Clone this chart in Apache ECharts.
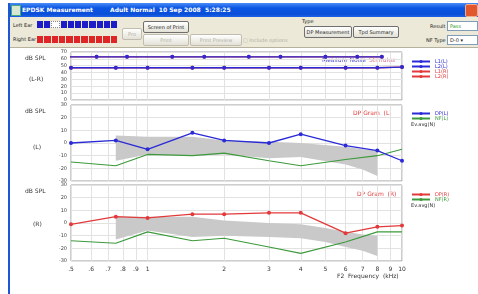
<!DOCTYPE html>
<html>
<head>
<meta charset="utf-8">
<script src="https://cdn.jsdelivr.net/npm/echarts@6/dist/echarts.min.js"></script>
<style>
  body { margin:0; width:478px; height:294px; overflow:hidden; background:#fff; position:relative;
         font-family:'DejaVu Sans', sans-serif; font-size:6px; color:#222; }
  .abs { position:absolute; }
  #titlebar { left:8px; top:3px; width:470px; height:14px;
              background:linear-gradient(#4a8cf7, #0b56e4 35%, #0a4fd8 80%, #1f62e6); }
  #frameL { left:8px; top:3px; width:2px; height:291px; background:#1f56d8; }
  #toolbar { left:10px; top:17px; width:468px; height:30px; background:#ece9d8; border-bottom:1px solid #b5b19c; }
  .ttl { color:#fff; font-weight:bold; font-size:6px; top:6px; }
  .btn { position:absolute; height:10px; border:1px solid #6f6f6f; border-radius:2px;
         background:linear-gradient(#ffffff,#e3e1d6); font-size:5px; line-height:10px; text-align:center; }
  .dis { color:#b0aea0; border-color:#c0bdb0; }
  .cells { position:absolute; display:flex; gap:1px; width:80px; height:7px; }
  .cells div { flex:1; }
  .box { position:absolute; height:8px; background:#fff; border:1px solid #7f9db9; font-size:5px; line-height:8px; padding-left:2px; }
</style>
</head>
<body>
<div id="titlebar" class="abs"></div>
<div class="abs" style="left:11px;top:5px;width:8px;height:9px;background:#d8e8d0;border:1px solid #4a7;"></div>
<div class="abs ttl" style="left:22px;">EPDSK Measurement</div>
<div class="abs ttl" style="left:110px;">Adult Normal&nbsp;&nbsp;10 Sep 2008&nbsp;&nbsp;5:28:25</div>
<div class="abs" style="left:465px;top:4px;width:11px;height:11px;background:#e2582e;border-radius:2px;border:1px solid #f0b090;"></div>
<div id="frameL" class="abs"></div>
<div id="toolbar" class="abs"></div>

<div class="abs" style="left:13px;top:22px;font-size:5px;">Left Ear</div>
<div class="abs" style="left:13px;top:36px;font-size:5px;">Right Ear</div>
<div id="leftCells" class="cells" style="left:37px;top:21px;"></div>
<div id="rightCells" class="cells" style="left:37px;top:36px;"></div>

<div class="btn dis" style="left:122px;top:28px;width:18px;">Pro</div>
<div class="btn" style="left:143px;top:21px;width:44px;">Screen of Print</div>
<div class="btn dis" style="left:143px;top:34px;width:44px;">Print</div>
<div class="btn dis" style="left:190px;top:34px;width:50px;">Print Preview</div>
<div class="abs dis" style="left:243px;top:37px;font-size:5px;color:#b0aea0;">&#9633; Include options</div>

<div class="abs" style="left:302px;top:18px;font-size:5px;">Type</div>
<div class="btn" style="left:304px;top:26px;width:46px;">DP Measurement</div>
<div class="btn" style="left:353px;top:26px;width:44px;">Tpd Summary</div>

<div class="abs" style="left:430px;top:23px;font-size:5px;">Result</div>
<div class="box" style="left:447px;top:21px;width:27px;color:#2a9a2a;">Pass</div>
<div class="abs" style="left:426px;top:37px;font-size:5px;">NF Type</div>
<div class="box" style="left:447px;top:35px;width:27px;">D-0 &#9662;</div>

<div id="chart" class="abs" style="left:0;top:0;width:478px;height:294px;"></div>

<script>
// toolbar ear indicator cells
for (let i = 0; i < 11; i++) {
  const b = document.createElement('div')
  b.style.background = i === 2 ? '#fff' : '#1c1cc8'
  if (i === 2) b.style.border = '1px dotted #888'
  document.getElementById('leftCells').appendChild(b)
  const r = document.createElement('div')
  r.style.background = '#de2626'
  document.getElementById('rightCells').appendChild(r)
}

// ---- data ----
const f2Freq = [0.5, 0.75, 1, 1.5, 2, 3, 4, 6, 8, 10]
const f1Freq = [0.42, 0.63, 0.83, 1.25, 1.67, 2.5, 3.33, 5, 6.67, 8.33]
const tickFreq = [0.5, 0.6, 0.7, 0.8, 0.9, 1, 2, 3, 4, 5, 6, 7, 8, 9, 10]
const tickLabels = ['.5', '.6', '.7', '.8', '.9', '1', '2', '3', '4', '5', '6', '7', '8', '9', '10']

const l1Left = [63, 63, 63, 63, 63, 63, 63, 63, 63, 63]
const l2Left = [47, 47, 47, 47, 47, 47, 47, 47, 47, 48]
const l1Right = [63, 63, 63, 63, 63, 63, 63, 63, 63, 63]
const l2Right = [47, 47, 47, 47, 47, 47, 47, 47, 47, 48]

const dpLeft = [0, 2, -5, 8, 2, 0, 7, -2, -6, -14]
const nfLeft = [-15, -18, -9, -10, -8, -14, -18, -13, -10, -5]
const dpRight = [-1, 5, 4, 7, 7, 8, 8, -8, -3, -2]
const nfRight = [-14, -16, -7, -14, -12, -19, -24, -15, -7, -7]

const bandFreqL = [0.75, 1, 1.5, 2, 3, 4, 6, 7, 8]
const bandTopL = [6, 5, 5, 2, 1, 0, -3, -5, -6]
const bandBottomL = [-14, -9, -10, -9, -12, -11, -17, -21, -26]
const bandFreqR = [0.75, 1, 1.5, 2, 3, 4, 5, 6, 7, 8]
const bandTopR = [5, 5, 5, 2, 0, -1, -4, -7, -9, -10]
const bandBottomR = [-13, -6, -11, -10, -11, -12, -15, -19, -22, -26]

const blue = '#2a2ad6', red = '#e23a3a', green = '#3c9a3c'

function pts(freqs, vals) {
  return freqs.map((f, i) => [Math.log10(f), vals[i]])
}

function nearestLabel(v) {
  let best = 0
  tickFreq.forEach((f, i) => {
    if (Math.abs(Math.log10(f) - v) < Math.abs(Math.log10(tickFreq[best]) - v)) best = i
  })
  return tickLabels[best]
}

const tickPos = tickFreq.map(f => Math.log10(f))

function xAxis(gi, showLabel) {
  return {
    type: 'value', gridIndex: gi, min: Math.log10(0.5), max: 1,
    axisLine: { show: false },
    axisTick: { show: false, customValues: tickPos },
    axisLabel: { show: showLabel, customValues: tickPos, formatter: nearestLabel,
                 fontSize: 6, color: '#333', margin: 5, fontFamily: 'DejaVu Sans' },
    splitLine: { show: true, lineStyle: { color: '#e2e2e2' } }
  }
}

function yAxis(gi, min, max) {
  return {
    type: 'value', gridIndex: gi, min: min, max: max, interval: 10,
    axisLine: { show: false }, axisTick: { show: false },
    axisLabel: { fontSize: 5, color: '#444', margin: 4, fontFamily: 'DejaVu Sans' },
    splitLine: { lineStyle: { color: '#e2e2e2' } }
  }
}

function lineSeries(name, gi, freqs, vals, color, marker) {
  return {
    name: name, type: 'line', xAxisIndex: gi, yAxisIndex: gi,
    data: pts(freqs, vals), clip: true,
    symbol: marker ? 'circle' : 'none', symbolSize: 4, showSymbol: marker,
    itemStyle: { color: color }, lineStyle: { color: color, width: marker ? 1.3 : 1.1 },
    animation: false
  }
}

function bandSeries(gi, freqs, top, bottom) {
  return {
    name: 'band' + gi, type: 'custom', xAxisIndex: gi, yAxisIndex: gi,
    data: [[Math.log10(freqs[0]), top[0]]], z: 1, animation: false,
    renderItem: function (params, api) {
      const upper = freqs.map((f, i) => api.coord([Math.log10(f), top[i]]))
      const lower = freqs.map((f, i) => api.coord([Math.log10(f), bottom[i]])).reverse()
      return { type: 'polygon', shape: { points: upper.concat(lower) }, style: { fill: '#c9c9c9' } }
    }
  }
}

const gridBase = { left: 71, right: 76, show: true, borderColor: '#9c9c9c', borderWidth: 1 }
const txt = (x, y, s, color, size) => ({
  type: 'text', left: x, top: y,
  style: { text: s, fill: color || '#333', fontSize: size || 6, fontFamily: 'DejaVu Sans' }
})

function legend(top, items) {
  return {
    left: 406, top: top, orient: 'vertical', itemGap: 0, itemWidth: 18, itemHeight: 4,
    selectedMode: false,
    textStyle: { fontSize: 5, lineHeight: 5, fontFamily: 'DejaVu Sans' },
    data: items.map(([n, c]) => ({ name: n, textStyle: { color: c } }))
  }
}

const chart = echarts.init(document.getElementById('chart'))
chart.setOption({
  animation: false,
  grid: [
    Object.assign({ top: 52, height: 48 }, gridBase),
    Object.assign({ top: 105, height: 76 }, gridBase),
    Object.assign({ top: 185, height: 76 }, gridBase)
  ],
  xAxis: [xAxis(0, false), xAxis(1, false), xAxis(2, true)],
  yAxis: [yAxis(0, 0, 70), yAxis(1, -30, 30), yAxis(2, -30, 30)],
  legend: [
    legend(54, [['L1(L)', blue], ['L2(L)', blue], ['L1(R)', red], ['L2(R)', red]]),
    legend(106, [['DP(L)', blue], ['NF(L)', green]]),
    legend(187, [['DP(R)', red], ['NF(R)', green]])
  ],
  graphic: [
    txt(25, 55, 'dB SPL'), txt(29, 76, '(L-R)'),
    txt(25, 108, 'dB SPL'), txt(33, 144, '(L)'),
    txt(25, 188, 'dB SPL'), txt(33, 221, '(R)'),
    txt(322, 57, 'Measure Noise', '#4b4bc8'), txt(369, 57, 'Stimulus', '#e06a8a'),
    txt(353, 110, 'DP Gram  (L)', red), txt(357, 191, 'DP Gram  (R)', red),
    txt(411, 122, 'Ev.avg(N)', '#333', 5), txt(411, 203, 'Ev.avg(N)', '#333', 5),
    txt(337, 273, 'F2  Frequency  (kHz)', '#333', 6)
  ],
  series: [
    lineSeries('L1(R)', 0, f1Freq, l1Right, red, true),
    lineSeries('L2(R)', 0, f2Freq, l2Right, red, true),
    lineSeries('L1(L)', 0, f1Freq, l1Left, blue, true),
    lineSeries('L2(L)', 0, f2Freq, l2Left, blue, true),
    bandSeries(1, bandFreqL, bandTopL, bandBottomL),
    lineSeries('NF(L)', 1, f2Freq, nfLeft, green, false),
    lineSeries('DP(L)', 1, f2Freq, dpLeft, blue, true),
    bandSeries(2, bandFreqR, bandTopR, bandBottomR),
    lineSeries('NF(R)', 2, f2Freq, nfRight, green, false),
    lineSeries('DP(R)', 2, f2Freq, dpRight, red, true)
  ]
})
</script>
</body>
</html>
